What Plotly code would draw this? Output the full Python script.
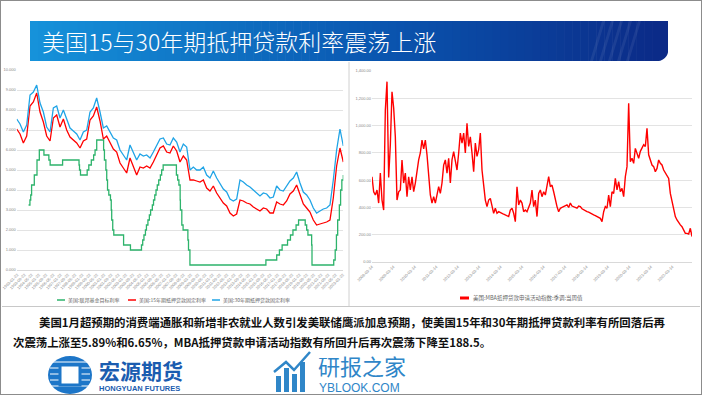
import plotly.graph_objects as go
import pandas as pd

# ---------------- data ----------------
# Left chart: US mortgage rates (evenly spaced observations 1993-01 .. 2023-02)
rate30 = [7.55, 7.3, 6.9, 7.25, 8.75, 8.9, 9.25, 8.35, 7.9, 7.15,
          6.9, 8.1, 8.2, 7.6, 8.0, 7.5, 7.1, 6.95, 6.8, 6.5,
          6.9, 7.0, 7.9, 8.1, 8.6, 7.9, 7.1, 7.2, 6.9, 6.6,
          6.5, 6.0, 5.75, 5.5, 6.25, 5.9, 5.5, 5.8, 5.7, 5.75,
          5.6, 5.9, 6.2, 6.55, 6.6, 6.3, 6.25, 6.6, 6.4, 5.9,
          6.3, 6.15, 5.0, 5.15, 5.0, 5.0, 5.15, 4.75, 4.6, 4.95,
          4.6, 4.3, 4.05, 3.9, 3.55, 3.45, 3.55, 4.5, 4.4, 4.25,
          4.15, 4.0, 3.85, 3.7, 3.85, 3.8, 3.6, 3.65, 4.2, 4.0,
          3.95, 4.2, 4.45, 4.6, 4.9, 4.35, 3.9, 3.75, 3.5, 3.1,
          2.85, 2.95, 3.05, 3.1, 3.25, 4.5, 6.0, 7.05, 6.2]
rate15 = [7.05, 6.8, 6.35, 6.7, 8.2, 8.4, 8.85, 7.9, 7.4, 6.7,
          6.45, 7.6, 7.75, 7.15, 7.55, 7.0, 6.65, 6.5, 6.35, 6.1,
          6.45, 6.55, 7.5, 7.7, 8.15, 7.45, 6.55, 6.7, 6.35, 6.05,
          5.9, 5.35, 5.1, 4.85, 5.6, 5.2, 4.75, 5.15, 5.1, 5.2,
          5.1, 5.4, 5.75, 6.1, 6.2, 5.9, 5.85, 6.2, 5.95, 5.4,
          5.7, 5.5, 4.5, 4.5, 4.45, 4.4, 4.5, 4.1, 3.95, 4.2,
          3.85, 3.6, 3.35, 3.2, 2.85, 2.7, 2.8, 3.5, 3.45, 3.35,
          3.3, 3.15, 3.05, 2.95, 3.1, 3.05, 2.85, 2.85, 3.4, 3.3,
          3.25, 3.45, 3.8, 3.95, 4.25, 3.75, 3.3, 3.1, 2.9, 2.5,
          2.25, 2.3, 2.35, 2.4, 2.5, 3.6, 5.2, 6.1, 5.4]
rate_start, rate_end = "1993-01-01", "2023-02-01"

fed_dates = ["1994-02-04", "1994-03-22", "1994-04-18", "1994-05-17", "1994-08-16", "1994-11-15",
             "1995-02-01", "1995-07-06", "1995-12-19", "1996-01-31", "1997-03-25", "1998-09-29",
             "1998-10-15", "1998-11-17", "1999-06-30", "1999-08-24", "1999-11-16", "2000-02-02",
             "2000-03-21", "2000-05-16", "2001-01-03", "2001-01-31", "2001-03-20", "2001-04-18",
             "2001-05-15", "2001-06-27", "2001-08-21", "2001-09-17", "2001-10-02", "2001-11-06",
             "2001-12-11", "2002-11-06", "2003-06-25", "2004-06-30", "2004-08-10", "2004-09-21",
             "2004-11-10", "2004-12-14", "2005-02-02", "2005-03-22", "2005-05-03", "2005-06-30",
             "2005-08-09", "2005-09-20", "2005-11-01", "2005-12-13", "2006-01-31", "2006-03-28",
             "2006-05-10", "2006-06-29", "2007-09-18", "2007-10-31", "2007-12-11", "2008-01-22",
             "2008-01-30", "2008-03-18", "2008-04-30", "2008-10-08", "2008-10-29", "2008-12-16",
             "2015-12-16", "2016-12-14", "2017-03-15", "2017-06-14", "2017-12-13", "2018-03-21",
             "2018-06-13", "2018-09-26", "2018-12-19", "2019-07-31", "2019-09-18", "2019-10-30",
             "2020-03-03", "2020-03-15", "2022-03-16", "2022-05-04", "2022-06-15", "2022-07-27",
             "2022-09-21", "2022-11-02", "2022-12-14", "2023-02-01"]
fed_rate = [3.25, 3.5, 3.75, 4.25, 4.75, 5.5,
            6.0, 5.75, 5.5, 5.25, 5.5, 5.25,
            5.0, 4.75, 5.0, 5.25, 5.5, 5.75,
            6.0, 6.5, 6.0, 5.5, 5.0, 4.5,
            4.0, 3.75, 3.5, 3.0, 2.5, 2.0,
            1.75, 1.25, 1.0, 1.25, 1.5, 1.75,
            2.0, 2.25, 2.5, 2.75, 3.0, 3.25,
            3.5, 3.75, 4.0, 4.25, 4.5, 4.75,
            5.0, 5.25, 4.75, 4.5, 4.25, 3.5,
            3.0, 2.25, 2.0, 1.5, 1.0, 0.25,
            0.5, 0.75, 1.0, 1.25, 1.5, 1.75,
            2.0, 2.25, 2.5, 2.25, 2.0, 1.75,
            1.25, 0.25, 0.5, 1.0, 1.75, 2.5,
            3.25, 4.0, 4.5, 4.75]

# Right chart: MBA mortgage application index (evenly spaced 2008-03 .. 2023-02)
mba_index = [625, 515, 491, 528, 432, 652, 454, 381, 1114, 1322,
             620, 860, 1248, 1129, 918, 454, 515, 528, 748, 579,
             652, 479, 625, 528, 625, 515, 579, 674, 748, 799,
             894, 830, 894, 786, 625, 491, 432, 479, 432, 503,
             552, 503, 579, 710, 748, 652, 760, 579, 748, 809,
             748, 674, 799, 945, 872, 945, 799, 1017, 847, 918,
             799, 662, 872, 774, 823, 945, 674, 552, 454, 406,
             454, 466, 406, 357, 394, 357, 369, 360, 357, 350,
             345, 340, 333, 380, 394, 357, 296, 552, 418, 454,
             432, 369, 381,
             369, 400, 432, 528, 406, 454, 333, 503, 528, 479,
             515, 491, 552, 625, 552, 564, 515, 454, 406, 369,
             394, 400, 406, 412, 418, 400, 432, 410, 406, 400,
             394, 410, 406, 390, 381, 375, 369, 365, 357, 350,
             345, 340, 333, 328, 320, 296, 369, 406, 394, 491,
             406, 515, 503, 613, 528, 589, 515, 540, 479, 625,
             699, 1163, 735, 760, 723, 833, 786, 760, 811, 833,
             860, 847, 980, 786, 748, 711, 699, 662, 686, 748,
             723, 711, 674, 652, 625, 613, 503, 442, 369, 333,
             308, 284, 272, 259, 235, 210, 210, 205, 247, 186]
mba_start, mba_end = "2008-03-14", "2023-02-10"

title_text = "美国15与30年期抵押贷款利率震荡上涨"
legend_left = ["美国:联邦基金目标利率", "美国:15年期抵押贷款固定利率", "美国:30年期抵押贷款固定利率"]
legend_right = "美国:MBA抵押贷款申请活动指数:季调:当周值"
para1 = "美国1月超预期的消费端通胀和新增非农就业人数引发美联储鹰派加息预期，使美国15年和30年期抵押贷款利率有所回落后再"
para2 = "次震荡上涨至5.89%和6.65%，MBA抵押贷款申请活动指数有所回升后再次震荡下降至188.5。"

# ---------------- helpers ----------------
W, H = 702, 395
def fx(x): return x / W
def fy(y): return 1 - y / H

GREEN, RED, BLUE = "#2db36b", "#ff0000", "#20a4e6"
CJK = "Noto Sans CJK SC"

rate_dates = pd.date_range(rate_start, rate_end, periods=len(rate30))
mba_dates = pd.date_range(mba_start, mba_end, periods=len(mba_index))
fed_x = pd.to_datetime(fed_dates)

fig = go.Figure()
fig.add_trace(go.Scatter(x=fed_x, y=fed_rate, mode="lines", line=dict(color=GREEN, width=1.3, shape="hv"),
                         name=legend_left[0], xaxis="x", yaxis="y"))
fig.add_trace(go.Scatter(x=rate_dates, y=rate15, mode="lines", line=dict(color=RED, width=1.3),
                         name=legend_left[1], xaxis="x", yaxis="y"))
fig.add_trace(go.Scatter(x=rate_dates, y=rate30, mode="lines", line=dict(color=BLUE, width=1.3),
                         name=legend_left[2], xaxis="x", yaxis="y"))
fig.add_trace(go.Scatter(x=mba_dates, y=mba_index, mode="lines", line=dict(color=RED, width=1.4),
                         name=legend_right, xaxis="x2", yaxis="y2"))

tickfont = dict(size=4, color="#888888", family="Liberation Sans")
fig.update_layout(
    width=W, height=H, margin=dict(l=0, r=0, t=0, b=0, autoexpand=False),
    paper_bgcolor="white", plot_bgcolor="white", showlegend=False,
    xaxis=dict(domain=[fx(16.7), fx(343.3)], anchor="y", type="date", automargin=False,
               range=[rate_start, rate_end], tick0="1993-01-22", dtick="M8",
               tickformat="%Y-%m-%d", tickangle=-45, tickfont=tickfont,
               showgrid=False, showline=True, linecolor="#d9d9d9", linewidth=1, ticks=""),
    yaxis=dict(domain=[fy(270), fy(70)], anchor="x", range=[0, 10], dtick=1, automargin=False,
               tickformat=".3f", tickfont=tickfont, gridcolor="#e3e3e3", gridwidth=1,
               zeroline=False, showline=False, ticks=""),
    xaxis2=dict(domain=[fx(372), fx(692)], anchor="y2", type="date", automargin=False,
                range=[mba_start, mba_end], tick0=mba_start, dtick="M12",
                tickformat="%Y-%m-%d", tickangle=-45, tickfont=tickfont,
                showgrid=False, showline=True, linecolor="#d9d9d9", linewidth=1, ticks=""),
    yaxis2=dict(domain=[fy(262), fy(71)], anchor="x2", range=[0, 1400], dtick=200, automargin=False,
                tickformat=",.2f", tickfont=tickfont, gridcolor="#e3e3e3", gridwidth=1,
                zeroline=False, showline=False, ticks=""),
)

shapes = []
anns = []

# outer frame
shapes.append(dict(type="rect", xref="paper", yref="paper", x0=0, x1=1, y0=0, y1=1,
                   line=dict(color="#8c8c8c", width=2), fillcolor="rgba(0,0,0,0)", layer="above"))
# panel separators
shapes.append(dict(type="line", xref="paper", yref="paper", x0=fx(349), x1=fx(349), y0=fy(306), y1=fy(62),
                   line=dict(color="#d0d0d0", width=1)))
shapes.append(dict(type="line", xref="paper", yref="paper", x0=fx(2), x1=fx(700), y0=fy(306.5), y1=fy(306.5),
                   line=dict(color="#c8c8c8", width=1)))

# title banner gradient
c0 = (22, 146, 218); c1 = (10, 86, 176); c2 = (12, 42, 135)
x0b, x1b = 30, 668
N = 80
for i in range(N):
    t = i / (N - 1)
    if t < 0.55:
        u = t / 0.55
        c = tuple(int(c0[k] + (c1[k] - c0[k]) * u) for k in range(3))
    else:
        u = (t - 0.55) / 0.45
        c = tuple(int(c1[k] + (c2[k] - c1[k]) * u) for k in range(3))
    xa = x0b + (x1b - x0b) * i / N
    xb = x0b + (x1b - x0b) * (i + 1) / N + 0.6
    shapes.append(dict(type="rect", xref="paper", yref="paper", x0=fx(xa), x1=fx(min(xb, x1b)),
                       y0=fy(61), y1=fy(21), line=dict(width=0), fillcolor="rgb(%d,%d,%d)" % c, layer="below"))
# faint diagonal stripes at right of banner
for k in range(5):
    xs = 590 + k * 9
    shapes.append(dict(type="path", xref="paper", yref="paper",
                       path="M %f %f L %f %f L %f %f L %f %f Z" % (fx(xs), fy(61), fx(xs + 12), fy(21),
                                                                     fx(xs + 15), fy(21), fx(xs + 3), fy(61)),
                       line=dict(width=0), fillcolor="rgba(255,255,255,0.07)", layer="below"))
# rounded bottom-right corner mask
shapes.append(dict(type="path", xref="paper", yref="paper",
                   path="M %f %f L %f %f Q %f %f %f %f Z" % (fx(668.5), fy(61.5), fx(668.5), fy(48),
                                                            fx(668.5), fy(61.5), fx(654), fy(61.5)),
                   line=dict(width=0), fillcolor="white", layer="below"))

anns.append(dict(x=fx(40), y=fy(41), xref="paper", yref="paper", text=title_text, showarrow=False,
                 xanchor="left", yanchor="middle", font=dict(size=23, color="white", family=CJK, weight=300)))

# left legend
lx = [(57, 66, GREEN, legend_left[0]), (128, 137, RED, legend_left[1]), (212, 221, BLUE, legend_left[2])]
for xs, xt, col, txt in lx:
    shapes.append(dict(type="line", xref="paper", yref="paper", x0=fx(xs), x1=fx(xs + 8), y0=fy(300), y1=fy(300),
                       line=dict(color=col, width=1.5)))
    anns.append(dict(x=fx(xt), y=fy(300), xref="paper", yref="paper", text=txt, showarrow=False,
                     xanchor="left", yanchor="middle", font=dict(size=5, color="#666666", family=CJK)))
# right legend
shapes.append(dict(type="line", xref="paper", yref="paper", x0=fx(460), x1=fx(469), y0=fy(298), y1=fy(298),
                   line=dict(color=RED, width=3)))
anns.append(dict(x=fx(471), y=fy(298), xref="paper", yref="paper", text=legend_right, showarrow=False,
                 xanchor="left", yanchor="middle", font=dict(size=5.5, color="#666666", family=CJK)))

# paragraph
anns.append(dict(x=fx(37), y=fy(322), xref="paper", yref="paper", text="<b>" + para1 + "</b>", showarrow=False,
                 xanchor="left", yanchor="middle", font=dict(size=11.4, color="#111111", family=CJK)))
anns.append(dict(x=fx(11), y=fy(342), xref="paper", yref="paper", text="<b>" + para2 + "</b>", showarrow=False,
                 xanchor="left", yanchor="middle", font=dict(size=11.4, color="#111111", family=CJK)))

# Hongyuan logo
shapes.append(dict(type="circle", xref="paper", yref="paper", x0=fx(48), x1=fx(92), y0=fy(394), y1=fy(356),
                   line=dict(width=0), fillcolor="#1d76c8"))
for k, yy in enumerate([362, 368, 374, 380, 386]):
    shapes.append(dict(type="line", xref="paper", yref="paper", x0=fx(50), x1=fx(90), y0=fy(yy), y1=fy(yy),
                       line=dict(color="white", width=1)))
shapes.append(dict(type="rect", xref="paper", yref="paper", x0=fx(60), x1=fx(80), y0=fy(385), y1=fy(365),
                   line=dict(color="#1d76c8", width=3), fillcolor="white"))
anns.append(dict(x=fx(97), y=fy(370), xref="paper", yref="paper", text="<b>宏源期货</b>", showarrow=False,
                 xanchor="left", yanchor="middle", font=dict(size=21, color="#1a5cb0", family=CJK)))
anns.append(dict(x=fx(97), y=fy(388), xref="paper", yref="paper", text="<b>HONGYUAN FUTURES</b>", showarrow=False,
                 xanchor="left", yanchor="middle", font=dict(size=7.5, color="#1a5cb0", family="Liberation Sans")))

# yblook logo
for xb0, top in [(276, 376), (284, 368), (292, 374), (300, 362)]:
    shapes.append(dict(type="rect", xref="paper", yref="paper", x0=fx(xb0), x1=fx(xb0 + 5), y0=fy(392), y1=fy(top),
                       line=dict(width=0), fillcolor="#2f86c8"))
shapes.append(dict(type="path", xref="paper", yref="paper",
                   path="M %f %f L %f %f L %f %f L %f %f" % (fx(274), fy(372), fx(286), fy(362), fx(294), fy(370), fx(310), fy(352)),
                   line=dict(color="#2f86c8", width=2.5)))
anns.append(dict(x=fx(316), y=fy(365), xref="paper", yref="paper", text="研报之家", showarrow=False,
                 xanchor="left", yanchor="middle", font=dict(size=22, color="#2f86c8", family=CJK)))
anns.append(dict(x=fx(317), y=fy(387.5), xref="paper", yref="paper", text="YBLOOK.COM", showarrow=False,
                 xanchor="left", yanchor="middle", font=dict(size=12, color="#2f86c8", family="Liberation Sans")))

fig.update_layout(shapes=shapes, annotations=anns)
fig.write_html("out.html", config={"displayModeBar": False, "staticPlot": True},
               post_script="document.body.style.margin='0';document.body.style.padding='0';document.body.style.overflow='hidden';")
